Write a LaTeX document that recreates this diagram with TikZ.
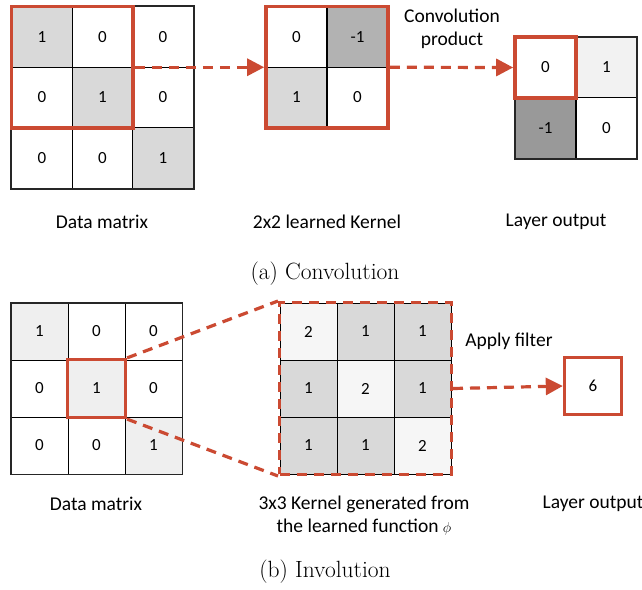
\documentclass[tikz,border=0pt]{standalone}
\usepackage{fontspec}
\usepackage{tikz}
\usetikzlibrary{positioning,arrows.meta,fit,shapes}
\newfontfamily\labelfont{Carlito}
\definecolor{redline}{RGB}{203,74,50}
\definecolor{grayA}{RGB}{217,217,217}
\definecolor{grayB}{RGB}{178,178,178}
\definecolor{grayC}{RGB}{153,153,153}
\definecolor{grayD}{RGB}{242,242,242}
\definecolor{grayE}{RGB}{239,239,239}
\definecolor{grayF}{RGB}{246,246,246}

\begin{document}
\begin{tikzpicture}[x=1pt,y=-1pt]
	\tikzset{
		cell/.style={draw=black,line width=0.8pt,minimum size=60.5pt,inner sep=0pt,font=\labelfont\fontsize{17}{17}\selectfont},
		smallcell/.style={cell,minimum size=57pt},
		frame/.style={draw=black!85,line width=1.8pt,inner sep=0pt},
		redbox/.style={draw=redline,line width=3.4pt,inner sep=0pt},
		reddash/.style={draw=redline,line width=3.2pt,dash pattern=on 10pt off 7pt},
		flow/.style={reddash,-{Triangle[length=17pt,width=17pt]}},
		label/.style={font=\labelfont\fontsize{19.5}{23.5}\selectfont,align=center},
		caption/.style={font=\fontsize{23.5}{23.5}\selectfont}
	}
	\useasboundingbox (0,0) rectangle (642,589);
	% (a) convolution
	\node[cell,fill=grayA] (d11) at (42,37) {1};
	\node[cell] (d12) at (102.5,37) {0};
	\node[cell] (d13) at (163,37) {0};
	\node[cell] (d21) at (42,97.5) {0};
	\node[cell,fill=grayA] (d22) at (102.5,97.5) {1};
	\node[cell] (d23) at (163,97.5) {0};
	\node[cell] (d31) at (42,158) {0};
	\node[cell] (d32) at (102.5,158) {0};
	\node[cell,fill=grayA] (d33) at (163,158) {1};
	\node[frame,fit=(d11)(d33)] (data) {};
	\node[redbox,fit=(d11)(d22)] (win) {};
	\node[cell] (k11) at (296.5,37) {0};
	\node[cell,fill=grayB] (k12) at (357.5,37) {-1};
	\node[cell,fill=grayA] (k21) at (296.5,97.5) {1};
	\node[cell] (k22) at (357.5,97.5) {0};
	\node[redbox,fit=(k11)(k22)] (ker) {};
	\node[cell] (o11) at (545.5,67.5) {0};
	\node[cell,fill=grayD] (o12) at (606.5,67.5) {1};
	\node[cell,fill=grayC] (o21) at (545.5,128) {-1};
	\node[cell] (o22) at (606.5,128) {0};
	\node[frame,fit=(o11)(o22)] (out) {};
	\node[redbox,fit=(o11)] (pick) {};
	\node[label] (conv) at (452,29) {Convolution\\product};
	\node[label] (ldata) at (102,222) {Data matrix};
	\node[label] (lker) at (327,222) {2x2 learned Kernel};
	\node[label] (lout) at (556,222) {Layer output};
	\node[caption] (capa) at (325,274) {(a) Convolution};
	\path
		(win.east) edge [flow] (ker.west)
		(ker.east) edge [flow] (pick.west);
	% (b) involution
	\node[smallcell,fill=grayE] (e11) at (39.5,331.5) {1};
	\node[smallcell] (e12) at (96.5,331.5) {0};
	\node[smallcell] (e13) at (153.5,331.5) {0};
	\node[smallcell] (e21) at (39.5,388.5) {0};
	\node[smallcell,fill=grayE] (e22) at (96.5,388.5) {1};
	\node[smallcell] (e23) at (153.5,388.5) {0};
	\node[smallcell] (e31) at (39.5,445.5) {0};
	\node[smallcell] (e32) at (96.5,445.5) {0};
	\node[smallcell,fill=grayE] (e33) at (153.5,445.5) {1};
	\node[frame,fit=(e11)(e33)] (input) {};
	\node[redbox,fit=(e22)] (centre) {};
	\node[smallcell,fill=grayF] (g11) at (308.5,331.5) {2};
	\node[smallcell,fill=grayA] (g12) at (365.5,331.5) {1};
	\node[smallcell,fill=grayA] (g13) at (422.5,331.5) {1};
	\node[smallcell,fill=grayA] (g21) at (308.5,388.5) {1};
	\node[smallcell,fill=grayF] (g22) at (365.5,388.5) {2};
	\node[smallcell,fill=grayA] (g23) at (422.5,388.5) {1};
	\node[smallcell,fill=grayA] (g31) at (308.5,445.5) {1};
	\node[smallcell,fill=grayA] (g32) at (365.5,445.5) {1};
	\node[smallcell,fill=grayF] (g33) at (422.5,445.5) {2};
	\node[fit=(g11)(g33),inner sep=0pt,reddash] (gen) {};
	\node[redbox,minimum size=57pt,font=\labelfont\fontsize{17}{17}\selectfont] (res) at (593,386) {6};
	\node[label] (apply) at (509,341) {Apply filter};
	\node[label] (ldata2) at (96,504) {Data matrix};
	\node[label] (lgen) at (364,515.5) {3x3 Kernel generated from\\the learned function {\fontsize{14}{14}\selectfont$\phi$}};
	\node[label] (lres) at (593,504) {Layer output};
	\node[caption] (capb) at (325,572) {(b) Involution};
	\path
		(centre.north east) edge [reddash] (gen.north west)
		(centre.south east) edge [reddash] (gen.south west)
		(gen.east) edge [flow] (res.west);
\end{tikzpicture}
\end{document}
